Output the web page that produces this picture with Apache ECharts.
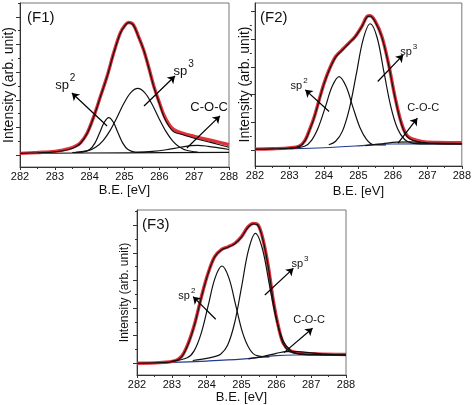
<!DOCTYPE html>
<html><head><meta charset="utf-8">
<script src="https://cdn.jsdelivr.net/npm/echarts@6/dist/echarts.min.js"></script>
<style>html,body{margin:0;padding:0;background:#fff}#c{width:474px;height:405px}</style>
</head><body><div id="c"></div>
<script>
// ---------- data (binding energy [eV], intensity arb. units) ----------
const xTickLabels = ['282','283','284','285','286','287','288'];

// Panel F1
const f1Measured = [[282,1.2],[282.5,1.8],[283,2.6],[283.4,4.6],[283.6,6.5],[283.74,9],[283.93,16],[284.12,28],[284.31,42.5],[284.5,57],[284.69,74],[284.88,88.5],[285.03,94.5],[285.12,96],[285.25,94.5],[285.4,86],[285.55,76],[285.7,63],[285.84,50],[286,38],[286.13,29],[286.27,22.5],[286.41,18.5],[286.7,15.5],[287,13.5],[287.5,10.5],[288,7.5]];
const f1Fit = [[282,1.2],[282.5,1.6],[283,2.2],[283.4,4],[283.6,6],[283.74,8.5],[283.93,15.7],[284.12,27.8],[284.31,42.3],[284.5,56.8],[284.69,73.7],[284.88,88.2],[285.03,94.2],[285.12,95.9],[285.25,94.2],[285.4,85.7],[285.55,76.1],[285.7,62.8],[285.84,49.5],[286,37.4],[286.13,27.8],[286.27,21],[286.41,16.9],[286.7,14.5],[287,12.1],[287.5,8.9],[288,5.6]];
const f1Sp2 = [[283.5,1.8],[283.8,2.1],[284,3.9],[284.15,8.6],[284.3,16.9],[284.42,23.7],[284.55,27],[284.68,23.7],[284.8,16.9],[284.95,8.6],[285.1,3.9],[285.3,2.1],[285.6,1.8]];
const f1Sp3 = [[283.6,2],[283.98,3.4],[284.18,5.8],[284.38,10.3],[284.58,17.5],[284.78,27],[284.98,37.3],[285.18,45.2],[285.38,48.3],[285.58,45.2],[285.78,37.3],[285.98,27],[286.18,17.5],[286.38,10.3],[286.58,5.8],[286.78,3.4],[287.1,2.1]];
const f1COC = [[285.3,1.8],[285.8,2.6],[286.2,3.8],[286.6,5.6],[286.9,6.8],[287.1,7],[287.4,6.3],[287.7,5.2],[288,4]];
const f1Baseline = [[282,1.2],[285,1.6],[288,1.9]];

// Panel F2
const f2Measured = [[282,0.6],[282.5,0.9],[283,1.5],[283.29,2.8],[283.45,7],[283.58,14.5],[283.72,24],[283.86,36.2],[284.0,48],[284.15,58],[284.34,67.6],[284.53,72.5],[284.72,77.3],[284.91,82.1],[285.1,89.4],[285.25,96.6],[285.34,97.1],[285.49,93],[285.68,82.1],[285.87,62.8],[286.06,38.6],[286.25,19.3],[286.44,9.7],[286.82,6.2],[287.3,5.4],[288,5.2]];
const f2Fit = [[282,0.6],[282.5,0.8],[283,1.3],[283.29,2.6],[283.45,6.6],[283.58,14],[283.72,23.6],[283.86,35.8],[284.0,47.6],[284.15,57.6],[284.34,67.2],[284.53,72.2],[284.72,77],[284.91,82],[285.1,89.2],[285.25,96.2],[285.34,96.8],[285.49,92.6],[285.68,81.6],[285.87,62.2],[286.06,38],[286.25,18.6],[286.44,9],[286.82,5.4],[287.3,4.6],[288,4.4]];
const f2Sp2 = [[283,1.1],[283.44,2.7],[283.64,7],[283.84,16.5],[284.04,31],[284.24,46],[284.44,53],[284.64,46],[284.84,31],[285.04,16.5],[285.24,7.5],[285.44,3.8],[285.8,3.6]];
const f2Sp3 = [[284.14,3.8],[284.34,6.3],[284.54,13.8],[284.74,30.1],[284.94,55.1],[285.14,80.2],[285.34,91.3],[285.54,81.5],[285.74,56.4],[285.94,31.4],[286.14,15.1],[286.34,7.6],[286.54,5.1],[286.9,4.4],[288,4.3]];
const f2COC = [[285.2,3.2],[285.7,4.5],[286.1,5.6],[286.5,5.8],[287,5.2],[287.5,4.8],[288,4.6]];
const f2Baseline = [[282,0.5],[283,0.9],[284,1.6],[285,3],[285.6,4.1],[286,4.3],[288,4.4]];

// Panel F3
const f3Measured = [[282,0],[282.65,0.5],[283.08,1.8],[283.28,5],[283.47,14.5],[283.66,29],[283.85,48.3],[284.04,65.2],[284.23,77.3],[284.43,82.6],[284.62,84.5],[284.81,87],[285,91.8],[285.19,99],[285.34,101.4],[285.48,100.2],[285.62,89.4],[285.77,70],[285.91,45.9],[286.06,26.6],[286.2,14.5],[286.39,9.2],[286.68,7.4],[287.16,6.8],[288,6.4]];
const f3Fit = [[282,0],[282.65,0.4],[283.08,1.6],[283.28,4.6],[283.47,14],[283.66,28.6],[283.85,48],[284.04,65],[284.23,77],[284.43,82.3],[284.62,84.2],[284.81,86.7],[285,91.5],[285.19,98.6],[285.34,101],[285.48,99.8],[285.62,89],[285.77,69.6],[285.91,45.4],[286.06,26],[286.2,14],[286.39,8.6],[286.68,6.8],[287.16,6.2],[288,6]];
const f3Sp2 = [[283,1.6],[283.44,4],[283.64,9],[283.84,21.5],[284.04,41.4],[284.24,61.7],[284.44,70.5],[284.64,61.7],[284.84,41.4],[285.04,21.5],[285.24,10],[285.44,5.5],[285.8,4.6]];
const f3Sp3 = [[283.6,2],[284,3.5],[284.2,4.6],[284.4,6.5],[284.6,13],[284.8,29],[285,55],[285.2,82],[285.4,94.2],[285.6,83],[285.8,57],[286,32],[286.2,16],[286.4,9.5],[286.6,7],[287,6.2],[288,6]];
const f3COC = [[285.2,3.2],[285.6,4.8],[286,7.2],[286.3,8.5],[286.6,8.5],[287,7.6],[287.4,6.6],[288,6.1]];
const f3Baseline = [[282,0],[283,0.6],[284,1.6],[285,3],[285.6,4.5],[286,5.6],[286.5,6],[288,6]];

const majorTicks = [0,20,40,60,80,100];
const minorTicks = [10,30,50,70,90,110];

// ---------- chart ----------
const FONT = 'Liberation Sans, Arial, Helvetica, sans-serif';
const panels = [
  {grid:{left:20, top:3, width:209, height:164}, yMin:-8.7, yMax:110.1, yGap:4, yName:14, xGap:17,
   measured:f1Measured, fit:f1Fit, sp2:f1Sp2, sp3:f1Sp3, coc:f1COC, base:f1Baseline, baseColor:'#111',
   arrows:[[[284.5,21],[283.49,44.9]],[[285.56,35.5],[286.45,57.2]],[[286.79,5.1],[287.74,28.3]]],
   labels:[['{b|sp}{s|2}',283.3,52.5],['{b|sp}{s|3}',286.7,62.5],['C-O-C',287.43,34.1]], lf:13, sf:10, lh:19},
  {grid:{left:255, top:3, width:210, height:163}, yMin:-11.6, yMax:106.3, yGap:3, yName:14, xGap:19,
   measured:f2Measured, fit:f2Fit, sp2:f2Sp2, sp3:f2Sp3, coc:f2COC, base:f2Baseline, baseColor:'#233a8c',
   arrows:[[[284.15,27.8],[283.46,43.5]],[[285.56,49.5],[286.3,68.8]],[[286.15,4.9],[286.71,23]]],
   labels:[['{b|sp}{s|2}',283.28,47.8],['{b|sp}{s|3}',286.46,72.4],['C-O-C',286.88,30.4]], lf:11, sf:8, lh:15},
  {grid:{left:137, top:210, width:209, height:165}, yMin:-8.5, yMax:111.1, yGap:6, yName:12, xGap:15,
   measured:f3Measured, fit:f3Fit, sp2:f3Sp2, sp3:f3Sp3, coc:f3COC, base:f3Baseline, baseColor:'#233a8c',
   arrows:[[[284.26,31.9],[283.61,48.3]],[[285.67,49.5],[286.49,68.8]],[[286.22,7.7],[287.04,25.4]]],
   labels:[['{b|sp}{s|2}',283.43,50.2],['{b|sp}{s|3}',286.68,73.4],['C-O-C',286.94,31.7]], lf:11, sf:8, lh:15}
];

const grid=[], xAxis=[], yAxis=[], series=[];
panels.forEach((p,i)=>{
  grid.push(Object.assign({show:true, borderColor:'#777', borderWidth:1, backgroundColor:'#fff'}, p.grid));
  xAxis.push({type:'value', gridIndex:i, min:282, max:288, interval:1,
    axisLine:{show:true, onZero:false, lineStyle:{color:'#333', width:1}},
    axisTick:{show:true, length:3, lineStyle:{color:'#333'}},
    minorTick:{show:true, splitNumber:2, length:2, lineStyle:{color:'#333'}},
    splitLine:{show:false}, minorSplitLine:{show:false},
    axisLabel:{fontSize:11, color:'#111', margin:4, fontFamily:FONT, showMinLabel:true, showMaxLabel:true,
      formatter:(v)=>xTickLabels[Math.round(v-282)]},
    name:'B.E. [eV]', nameLocation:'middle', nameGap:p.xGap,
    nameTextStyle:{fontSize:13, color:'#111', fontFamily:FONT}});
  yAxis.push({type:'value', gridIndex:i, min:p.yMin, max:p.yMax, position:'left',
    axisLine:{show:true, onZero:false, lineStyle:{color:'#333', width:1}},
    axisTick:{show:true, length:4, customValues:majorTicks, lineStyle:{color:'#333'}},
    axisLabel:{show:false}, splitLine:{show:false},
    name:'Intensity (arb. unit)', nameLocation:'middle', nameGap:p.yGap,
    nameTextStyle:{fontSize:p.yName, color:'#111', fontFamily:FONT}});
  yAxis.push({type:'value', gridIndex:i, min:p.yMin, max:p.yMax, position:'right', offset:-p.grid.width,
    axisLine:{show:false},
    axisTick:{show:true, inside:true, length:2, customValues:minorTicks, lineStyle:{color:'#333'}},
    axisLabel:{show:false}, splitLine:{show:false}});
  const yi = i*2;
  const ln = (name, data, color, width, z) => ({type:'line', name, xAxisIndex:i, yAxisIndex:yi, data,
    showSymbol:false, smooth:0.35, silent:true, z,
    lineStyle:{color, width}, itemStyle:{color}});
  series.push(ln('baseline', p.base, p.baseColor, 1.2, 2));
  series.push(ln('measured', p.measured, '#e0323c', 3.4, 3));
  series.push(ln('sp2', p.sp2, '#111', 1.2, 4));
  series.push(ln('sp3', p.sp3, '#111', 1.2, 4));
  series.push(ln('C-O-C', p.coc, '#111', 1.2, 4));
  series.push(ln('fit', p.fit, '#111', 1.2, 5));
  series.push({type:'line', name:'annot', xAxisIndex:i, yAxisIndex:yi, data:[], silent:true, z:6,
    markLine:{silent:true, animation:false, symbol:['none','arrow'], symbolSize:7,
      lineStyle:{color:'#000', width:1.2, type:'solid'}, label:{show:false},
      data:p.arrows.map(a=>[{coord:a[0]},{coord:a[1]}])},
    markPoint:{silent:true, animation:false, symbol:'circle', symbolSize:1, itemStyle:{color:'rgba(0,0,0,0)'},
      label:{show:true, position:'inside', color:'#111', fontFamily:FONT, fontSize:p.lf,
        formatter:(q)=>q.name,
        rich:{b:{fontSize:p.lf, fontFamily:FONT, color:'#111', lineHeight:p.lh, verticalAlign:'bottom'},
              s:{fontSize:p.sf, fontFamily:FONT, color:'#111', lineHeight:p.lh, verticalAlign:'top', padding:[0,0,0,1]}}},
      data:p.labels.map(l=>({name:l[0], coord:[l[1],l[2]]}))}
  });
});

const chart = echarts.init(document.getElementById('c'), null, {renderer:'canvas'});
chart.setOption({
  animation:false, backgroundColor:'#fff',
  grid, xAxis, yAxis, series,
  graphic:[
    {type:'text', left:27, top:10, z:10, style:{text:'(F1)', font:'15px '+FONT, fill:'#111'}},
    {type:'text', left:260, top:10, z:10, style:{text:'(F2)', font:'15px '+FONT, fill:'#111'}},
    {type:'text', left:142, top:217, z:10, style:{text:'(F3)', font:'15px '+FONT, fill:'#111'}}
  ]
});
</script></body></html>
